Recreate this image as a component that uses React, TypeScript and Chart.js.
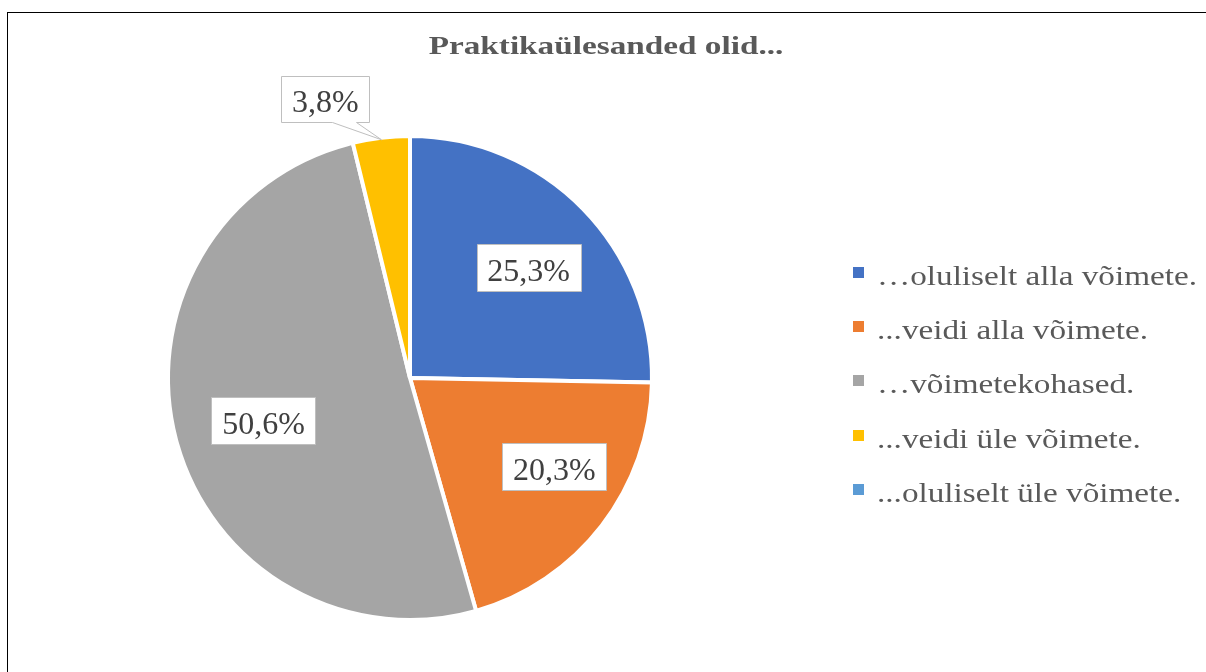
import React, { useEffect, useRef } from "react";
import { Chart, registerables } from "chart.js";

Chart.register(...registerables);

// ---- data ----
const titleText = "Praktikaülesanded olid...";
const categories = [
  "…oluliselt alla võimete.",
  "...veidi alla võimete.",
  "…võimetekohased.",
  "...veidi üle võimete.",
  "...oluliselt üle võimete.",
];
const values = [25.3, 20.3, 50.6, 3.8, 0];

// ---- styles ----
const colors = ["#4472C4", "#ED7D31", "#A5A5A5", "#FFC000", "#5B9BD5"];
const labelRadius = [0.67, 0.7, 0.63, 1, 1];
const labelTurnDeg = [1.5, -6, -1.3, -10, 0];
const SERIF = '"Liberation Serif", "Times New Roman", serif';
const W = 1206;
const H = 672;

const fmt = (v: number) => v.toFixed(1).replace(".", ",") + "%";

const framePlugin = {
  id: "frame",
  beforeDraw(chart: any) {
    const ctx = chart.ctx;
    ctx.save();
    ctx.fillStyle = "#ffffff";
    ctx.fillRect(0, 0, W, H);
    ctx.fillStyle = "#000000";
    ctx.fillRect(7, 12, W - 7, 1);
    ctx.fillRect(7, 12, 1, H - 12);
    ctx.restore();
  },
};

const decorPlugin = {
  id: "decor",
  afterDatasetsDraw(chart: any) {
    const ctx = chart.ctx;
    const meta = chart.getDatasetMeta(0);
    const data = chart.data.datasets[0].data as number[];
    ctx.save();
    ctx.font = `32px ${SERIF}`;
    meta.data.forEach((arc: any, i: number) => {
      const v = data[i];
      if (!v) return;
      const p = arc.getProps(["x", "y", "startAngle", "endAngle", "outerRadius"], true);
      const mid = (p.startAngle + p.endAngle) / 2;
      const txt = fmt(v);
      const tw = ctx.measureText(txt).width;
      const small = v < 5;
      const ang = mid + (labelTurnDeg[i] * Math.PI) / 180;
      let cx: number, cy: number;
      if (small) {
        const d = p.outerRadius + 50;
        cx = p.x + Math.cos(ang) * d;
        cy = p.y + Math.sin(ang) * d;
      } else {
        const d = p.outerRadius * labelRadius[i];
        cx = p.x + Math.cos(ang) * d;
        cy = p.y + Math.sin(ang) * d;
      }
      const bw = Math.round(tw + 21);
      const bh = small ? 46 : 47;
      const l = Math.round(cx - bw / 2) + 0.5;
      const t = Math.round(cy - bh / 2) + 0.5;
      const r = l + bw;
      const b = t + bh;
      ctx.beginPath();
      ctx.moveTo(l, t);
      ctx.lineTo(r, t);
      ctx.lineTo(r, b);
      if (small) {
        const tipR = p.outerRadius - 2;
        const tx = p.x + Math.cos(mid) * tipR;
        const ty = p.y + Math.sin(mid) * tipR;
        ctx.lineTo(Math.round(cx + 31) + 0.5, b);
        ctx.lineTo(tx, ty);
        ctx.lineTo(Math.round(cx + 7) + 0.5, b);
      }
      ctx.lineTo(l, b);
      ctx.closePath();
      ctx.fillStyle = "#ffffff";
      ctx.fill();
      ctx.strokeStyle = "#BFBFBF";
      ctx.lineWidth = 1;
      ctx.stroke();
      ctx.fillStyle = "#404040";
      ctx.textAlign = "center";
      ctx.textBaseline = "alphabetic";
      ctx.fillText(txt, cx, cy + 13.5);
    });
    ctx.restore();
  },
  afterDraw(chart: any) {
    const ctx = chart.ctx;
    ctx.save();
    // title
    ctx.fillStyle = "#595959";
    ctx.font = `bold 25px ${SERIF}`;
    ctx.textBaseline = "alphabetic";
    ctx.textAlign = "center";
    ctx.translate(606, 54);
    ctx.scale(1.33, 1);
    ctx.fillText(titleText, 0, 0);
    ctx.restore();

    // legend
    const labels = chart.data.labels as string[];
    const bg = chart.data.datasets[0].backgroundColor as string[];
    ctx.save();
    ctx.font = `27px ${SERIF}`;
    ctx.textBaseline = "alphabetic";
    ctx.textAlign = "left";
    labels.forEach((lab, i) => {
      const top = 267 + i * 54.2;
      ctx.fillStyle = bg[i];
      ctx.fillRect(853, Math.round(top), 11, 11);
      ctx.fillStyle = "#595959";
      ctx.save();
      ctx.translate(877, Math.round(top) + 18);
      ctx.scale(1.23, 1);
      ctx.fillText(lab, 0, 0);
      ctx.restore();
    });
    ctx.restore();
  },
};

export default function App() {
  const ref = useRef<HTMLCanvasElement | null>(null);
  useEffect(() => {
    document.body.style.margin = "0";
    const canvas = ref.current;
    if (!canvas) return;
    const chart = new Chart(canvas, {
      type: "pie",
      data: {
        labels: categories,
        datasets: [
          {
            data: values,
            backgroundColor: colors,
            borderColor: "#ffffff",
            borderWidth: 4,
            hoverBorderWidth: 4,
            hoverOffset: 0,
            offset: 0,
          },
        ],
      },
      options: {
        responsive: false,
        animation: false,
        devicePixelRatio: 1,
        layout: { padding: { top: 134, bottom: 50, left: 166, right: 552 } },
        plugins: {
          legend: { display: false },
          title: { display: false },
          tooltip: { enabled: false },
        },
        events: [],
      },
      plugins: [framePlugin, decorPlugin],
    });
    return () => chart.destroy();
  }, []);
  return (
    <div style={{ width: W, height: H, background: "#fff" }}>
      <canvas ref={ref} width={W} height={H} style={{ display: "block" }} />
    </div>
  );
}
